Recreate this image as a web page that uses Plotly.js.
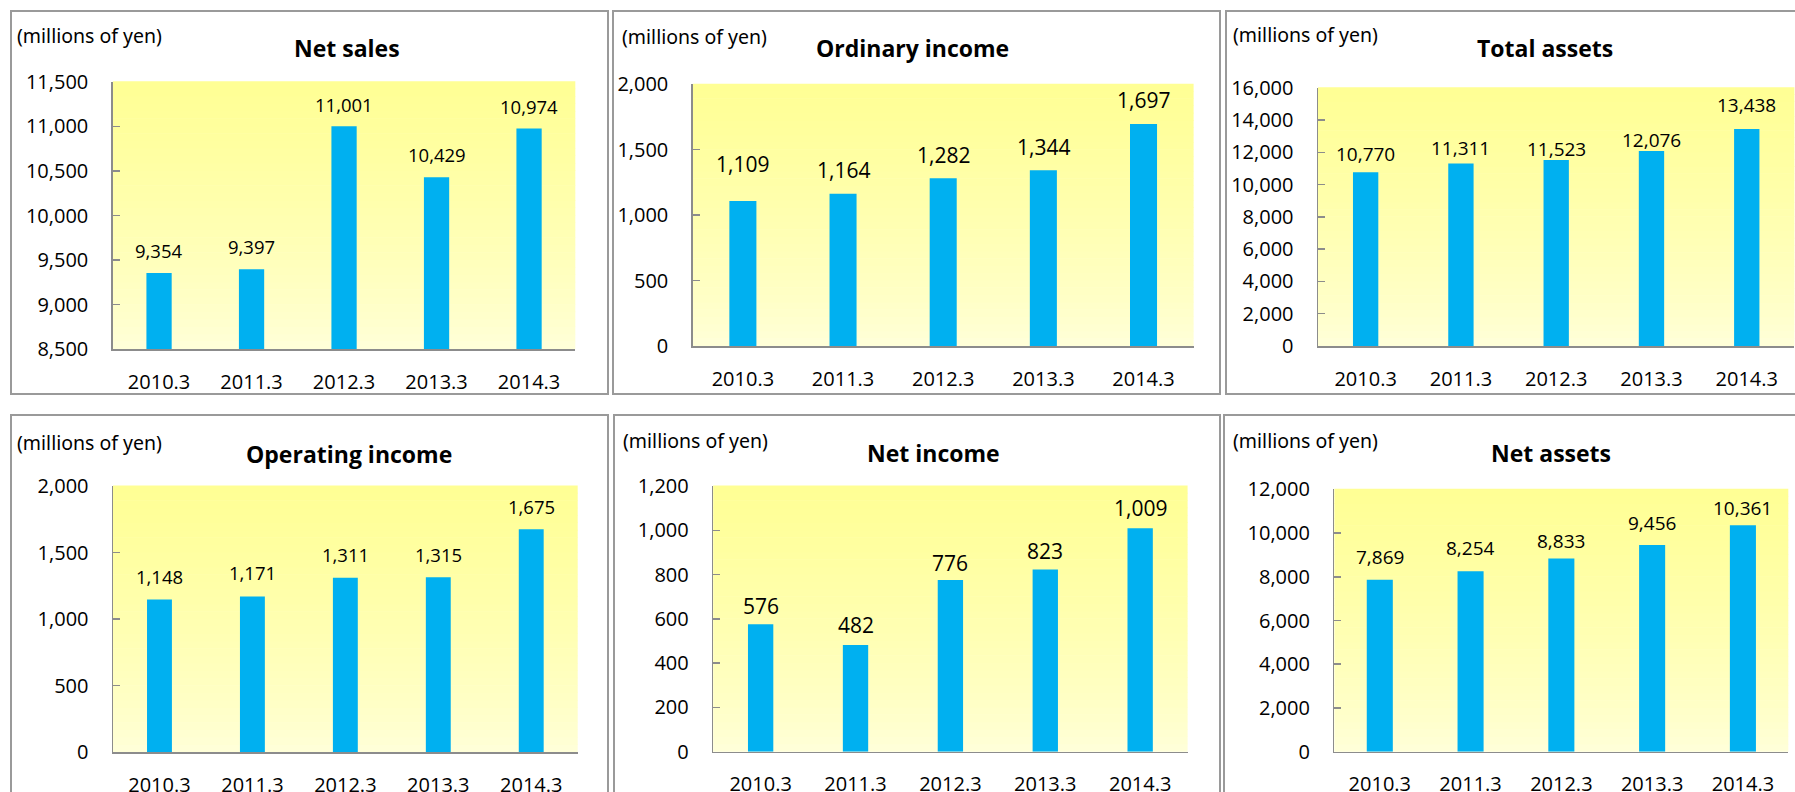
<!DOCTYPE html>
<html>
<head>
<meta charset="utf-8">
<script src="https://cdn.plot.ly/plotly-3.0.1.min.js"></script>
<style>
  html, body { margin: 0; padding: 0; background: #ffffff; }
  #chart { width: 1795px; height: 792px; }
</style>
</head>
<body>
<div id="chart"></div>
<script>
// ---------------- data ----------------
const categories      = ['2010.3', '2011.3', '2012.3', '2013.3', '2014.3'];
const netSales        = [9354, 9397, 11001, 10429, 10974];
const ordinaryIncome  = [1109, 1164, 1282, 1344, 1697];
const totalAssets     = [10770, 11311, 11523, 12076, 13438];
const operatingIncome = [1148, 1171, 1311, 1315, 1675];
const netIncome       = [576, 482, 776, 823, 1009];
const netAssets       = [7869, 8254, 8833, 9456, 10361];
const chartTitles     = ['Net sales', 'Ordinary income', 'Total assets',
                         'Operating income', 'Net income', 'Net assets'];
const unitLabel       = '(millions of yen)';

// ---------------- layout helpers ----------------
const W = 1795, H = 792;
const px = v => v / W;
const py = v => 1 - v / H;

const panels = [
  { values: netSales,        title: chartTitles[0], range: [8500, 11500], dtick: 500,
    box: [112.8, 575.3, 81.7, 349.3], titlePos: [347, 47.7],  unitPos: [15, 36],
    labelSize: 18.5, lift: [23, 23, 22, 23, 22], barW: 0.273 },
  { values: ordinaryIncome,  title: chartTitles[1], range: [0, 2000], dtick: 500,
    box: [692.8, 1193.6, 84.3, 346], titlePos: [912.4, 48.3], unitPos: [620, 36.7],
    labelSize: 21, lift: [37, 24, 23, 23, 24], barW: 0.27 },
  { values: totalAssets,     title: chartTitles[2], range: [0, 16000], dtick: 2000,
    box: [1318, 1794.4, 87.7, 346], titlePos: [1544.7, 47.7], unitPos: [1231, 34.3],
    labelSize: 19, lift: [18, 15, 11, 11, 24], barW: 0.266 },
  { values: operatingIncome, title: chartTitles[3], range: [0, 2000], dtick: 500,
    box: [113, 577.7, 486, 752.3], titlePos: [349, 454], unitPos: [15, 442.7],
    labelSize: 18.5, lift: [23, 24, 23, 23, 23], barW: 0.268 },
  { values: netIncome,       title: chartTitles[4], range: [0, 1200], dtick: 200,
    box: [713.2, 1187.6, 486, 751.7], titlePos: [933.9, 453.3], unitPos: [620.7, 440.7],
    labelSize: 21, lift: [18, 20, 17, 18, 20], barW: 0.267 },
  { values: netAssets,       title: chartTitles[5], range: [0, 12000], dtick: 2000,
    box: [1334.4, 1788.3, 489.3, 751.7], titlePos: [1551, 453.3], unitPos: [1230.7, 440],
    labelSize: 19, lift: [23, 23, 18, 22, 17], barW: 0.287 }
];

const frames = [
  [11, 608, 11, 394], [613, 1220, 11, 394], [1226, 1800, 11, 394],
  [11, 608, 415, 800], [614, 1220, 415, 800], [1224, 1800, 415, 800]
];

const FONT = 'Open Sans, Lato, sans-serif';
const axisGray = '#8c8c8c';
const barColor = '#00B0F0';

const traces = [];
const layout = {
  width: W, height: H,
  margin: { l: 0, r: 0, t: 0, b: 0 },
  paper_bgcolor: '#ffffff',
  plot_bgcolor: 'rgba(0,0,0,0)',
  showlegend: false,
  font: { family: FONT, color: '#000000' },
  annotations: [],
  shapes: []
};

// gradient band colours (bottom -> top)
const BANDS = 36;
function bandColor(t) {
  const b = [255, 255, 220], tp = [255, 255, 148];
  const c = b.map((v, i) => Math.round(v + (tp[i] - v) * Math.pow(t, 0.7)));
  return `rgb(${c[0]},${c[1]},${c[2]})`;
}

panels.forEach((p, i) => {
  const n = i + 1;
  const xa = n === 1 ? 'x' : 'x' + n;
  const ya = n === 1 ? 'y' : 'y' + n;
  const xKey = n === 1 ? 'xaxis' : 'xaxis' + n;
  const yKey = n === 1 ? 'yaxis' : 'yaxis' + n;
  const [x0, x1, y0, y1] = p.box;

  traces.push({
    type: 'bar', x: categories, y: p.values, xaxis: xa, yaxis: ya,
    width: p.barW, marker: { color: barColor, line: { width: 0 } },
    hoverinfo: 'x+y'
  });

  layout[xKey] = {
    domain: [px(x0), px(x1)], anchor: ya, type: 'category',
    categoryorder: 'array', categoryarray: categories,
    range: [-0.5, categories.length - 0.5], autorange: false,
    showline: true, linecolor: axisGray, linewidth: 1.5,
    ticks: '', showgrid: false, zeroline: false,
    tickfont: { family: FONT, size: 20, color: '#000' },
    ticklabelstandoff: 14, fixedrange: true
  };
  layout[yKey] = {
    domain: [py(y1), py(y0)], anchor: xa, range: p.range, autorange: false,
    dtick: p.dtick, tick0: 0, tickformat: ',d',
    showline: true, linecolor: axisGray, linewidth: 1.5,
    ticks: 'inside', ticklen: 7, tickwidth: 1.5, tickcolor: axisGray,
    showgrid: false, zeroline: false,
    tickfont: { family: FONT, size: 20, color: '#000' },
    ticklabelstandoff: 19, fixedrange: true
  };

  // gradient background of plot area
  for (let k = 0; k < BANDS; k++) {
    layout.shapes.push({
      type: 'rect', layer: 'below',
      xref: xa + ' domain', yref: ya + ' domain',
      x0: 0, x1: 1, y0: k / BANDS, y1: (k + 1) / BANDS + 0.002,
      line: { width: 0 }, fillcolor: bandColor((k + 0.5) / BANDS)
    });
  }

  // data labels (x given as category index)
  p.values.forEach((v, j) => {
    layout.annotations.push({
      xref: xa, yref: ya, x: j, y: v,
      text: v.toLocaleString('en-US'), showarrow: false,
      yanchor: 'middle', xanchor: 'center', yshift: p.lift[j],
      font: { family: FONT, size: p.labelSize, color: '#000' }
    });
  });

  // chart title
  layout.annotations.push({
    xref: 'paper', yref: 'paper', x: px(p.titlePos[0]), y: py(p.titlePos[1]),
    xanchor: 'center', yanchor: 'middle', showarrow: false,
    text: '<b>' + p.title + '</b>',
    font: { family: FONT, size: 23, color: '#000' }
  });
  // unit label
  layout.annotations.push({
    xref: 'paper', yref: 'paper', x: px(p.unitPos[0]), y: py(p.unitPos[1]),
    xanchor: 'left', yanchor: 'middle', showarrow: false,
    text: unitLabel,
    font: { family: 'Noto Sans, Open Sans, sans-serif', size: 19.5, color: '#000' }
  });
});

// panel frames
frames.forEach(f => {
  layout.shapes.push({
    type: 'rect', xref: 'paper', yref: 'paper', layer: 'above',
    x0: px(f[0]), x1: px(f[1]), y0: py(f[3]), y1: py(f[2]),
    line: { color: '#9a9a9a', width: 2 }, fillcolor: 'rgba(0,0,0,0)'
  });
});

Plotly.newPlot('chart', traces, layout, { displayModeBar: false, staticPlot: true });
</script>
</body>
</html>
